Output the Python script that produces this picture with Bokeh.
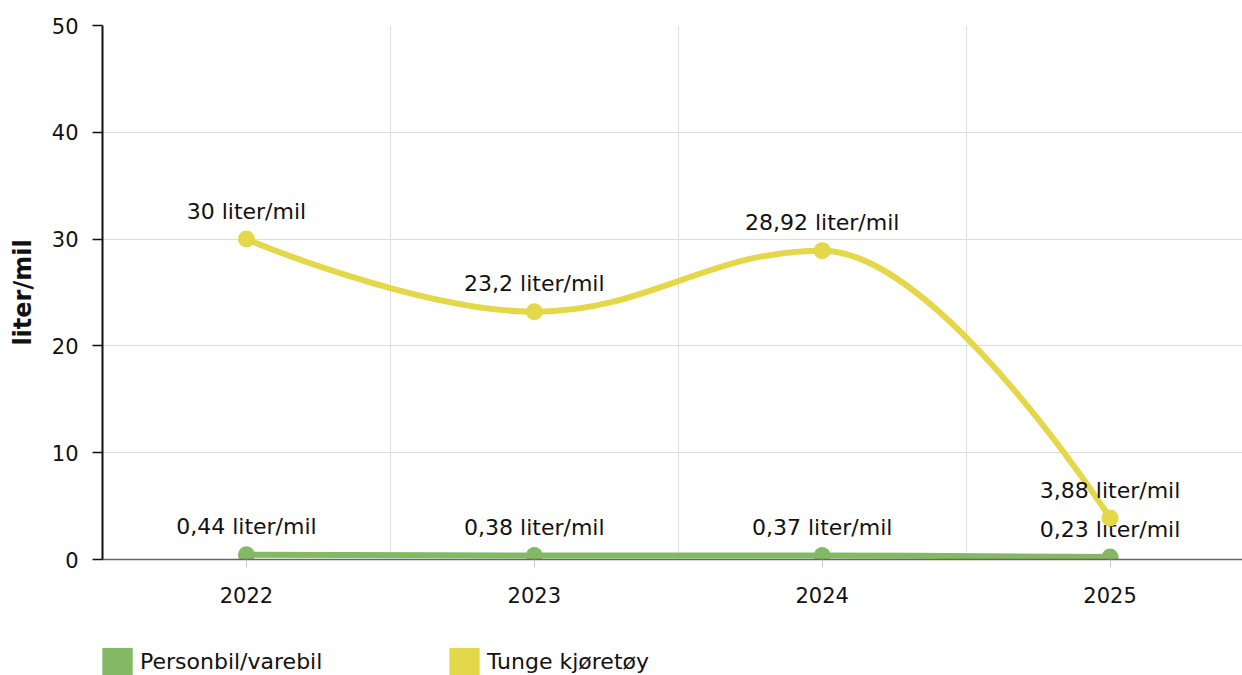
import math
from bokeh.plotting import figure
from bokeh.layouts import column
from bokeh.models import Range1d, FixedTicker, Legend, LegendItem, ColumnDataSource
from bokeh.core.properties import value
from bokeh.embed import file_html
from bokeh.resources import INLINE

# ---------------- data ----------------
years = ["2022", "2023", "2024", "2025"]
personbil = [0.44, 0.38, 0.37, 0.23]
tunge = [30, 23.2, 28.92, 3.88]
series_names = ["Personbil/varebil", "Tunge kjøretøy"]
unit = "liter/mil"
y_ticks = [0, 10, 20, 30, 40, 50]

GREEN = "#84b964"
YELLOW = "#e4d84a"
FONT = "DejaVu Sans"
TXT = "#111111"


def fmt(v):
    return ("%g" % v).replace(".", ",") + " " + unit


def spline_segments(xs, ys, smoothing=1.5):
    """Highcharts-like spline: cubic bezier control points from the data."""
    n = len(xs)
    denom = smoothing + 1
    left = [None] * n
    right = [None] * n
    for i in range(n):
        px, py = xs[i], ys[i]
        if i == 0 or i == n - 1:
            left[i] = (px, py)
            right[i] = (px, py)
            continue
        lx, ly = xs[i - 1], ys[i - 1]
        nx, ny = xs[i + 1], ys[i + 1]
        lcx = (smoothing * px + lx) / denom
        lcy = (smoothing * py + ly) / denom
        rcx = (smoothing * px + nx) / denom
        rcy = (smoothing * py + ny) / denom
        if rcx != lcx:
            corr = (rcy - lcy) * (rcx - px) / (rcx - lcx) + py - rcy
            lcy += corr
            rcy += corr
            if lcy > ly and lcy > py:
                lcy = max(ly, py)
                rcy = 2 * py - lcy
            elif lcy < ly and lcy < py:
                lcy = min(ly, py)
                rcy = 2 * py - lcy
            if rcy > ny and rcy > py:
                rcy = max(ny, py)
                lcy = 2 * py - rcy
            elif rcy < ny and rcy < py:
                rcy = min(ny, py)
                lcy = 2 * py - rcy
        left[i] = (lcx, lcy)
        right[i] = (rcx, rcy)
    seg = dict(x0=[], y0=[], x1=[], y1=[], cx0=[], cy0=[], cx1=[], cy1=[])
    for i in range(1, n):
        seg["x0"].append(xs[i - 1]); seg["y0"].append(ys[i - 1])
        seg["x1"].append(xs[i]); seg["y1"].append(ys[i])
        seg["cx0"].append(right[i - 1][0]); seg["cy0"].append(right[i - 1][1])
        seg["cx1"].append(left[i][0]); seg["cy1"].append(left[i][1])
    return seg


xs = list(range(len(years)))

p = figure(
    width=1242, height=620,
    x_range=Range1d(-0.5, 3.46), y_range=Range1d(0, 50),
    output_backend="svg", toolbar_location=None, title=None,
    min_border_left=102, min_border_right=0, min_border_top=25, min_border_bottom=61,
)
p.outline_line_color = None
p.background_fill_color = "white"
p.border_fill_color = "white"

# axes
p.xaxis.ticker = FixedTicker(ticks=xs)
p.xaxis.major_label_overrides = {i: y for i, y in enumerate(years)}
p.xaxis.minor_tick_line_color = None
p.xaxis.major_tick_in = 0
p.xaxis.major_tick_out = 8
p.xaxis.major_tick_line_color = "#cccccc"
p.xaxis.axis_line_color = "#666666"
p.xaxis.axis_line_width = 1.5
p.xaxis.major_label_standoff = 19
p.xaxis.major_label_text_font = FONT
p.xaxis.major_label_text_font_size = "21px"
p.xaxis.major_label_text_color = TXT

p.yaxis.ticker = FixedTicker(ticks=y_ticks)
p.yaxis.minor_tick_line_color = None
p.yaxis.major_tick_in = 0
p.yaxis.major_tick_out = 10
p.yaxis.major_tick_line_color = "#111111"
p.yaxis.major_tick_line_width = 1.5
p.yaxis.axis_line_color = "#111111"
p.yaxis.axis_line_width = 2
p.yaxis.major_label_standoff = 14
p.yaxis.major_label_text_font = FONT
p.yaxis.major_label_text_font_size = "21px"
p.yaxis.major_label_text_color = TXT
p.yaxis.axis_label = unit
p.yaxis.axis_label_text_font = FONT
p.yaxis.axis_label_text_font_style = "bold"
p.yaxis.axis_label_text_font_size = "24px"
p.yaxis.axis_label_text_color = TXT
p.yaxis.axis_label_standoff = 12

# grids
p.xgrid.ticker = FixedTicker(ticks=[0.5, 1.5, 2.5])
p.xgrid.grid_line_color = "#dddddd"
p.xgrid.grid_line_width = 1
p.ygrid.grid_line_color = "#dddddd"
p.ygrid.grid_line_width = 1

# legend strip (separate figure whose frame fills it, so the legend is not clipped)
leg = figure(
    width=1242, height=55, x_range=Range1d(0, 1), y_range=Range1d(0, 1),
    output_backend="svg", toolbar_location=None, title=None,
    min_border_left=0, min_border_right=0, min_border_top=0, min_border_bottom=0,
)
leg.axis.visible = False
leg.grid.visible = False
leg.outline_line_color = None

# series
legend_items = []
for name, vals, col in [(series_names[0], personbil, GREEN), (series_names[1], tunge, YELLOW)]:
    seg = ColumnDataSource(spline_segments(xs, vals))
    p.bezier(x0="x0", y0="y0", x1="x1", y1="y1", cx0="cx0", cy0="cy0", cx1="cx1", cy1="cy1",
             source=seg, line_color=col, line_width=6, line_cap="round")
    src = ColumnDataSource(dict(x=xs, y=vals, lab=[fmt(v) for v in vals]))
    p.scatter("x", "y", source=src, size=17, fill_color=col, line_color=None)
    p.text("x", "y", text="lab", source=src, y_offset=-28, text_align="center",
           text_baseline="middle", text_font=value(FONT), text_font_size="22px",
           text_color=TXT)
    dummy = leg.rect(x=[math.nan], y=[math.nan], width=1, height=1, fill_color=col, line_color=None)
    legend_items.append(LegendItem(label=name, renderers=[dummy]))

legend = Legend(
    items=legend_items, location=(-4, -3), orientation="horizontal",
    glyph_width=38, glyph_height=34, label_standoff=4, label_width=305, spacing=0,
    padding=0, margin=0, border_line_color=None, background_fill_alpha=0,
    label_text_font=FONT, label_text_font_size="22px", label_text_color=TXT,
)
leg.add_layout(legend)

layout = column(p, leg, spacing=0)
open("out.html", "w").write(file_html(layout, INLINE))
